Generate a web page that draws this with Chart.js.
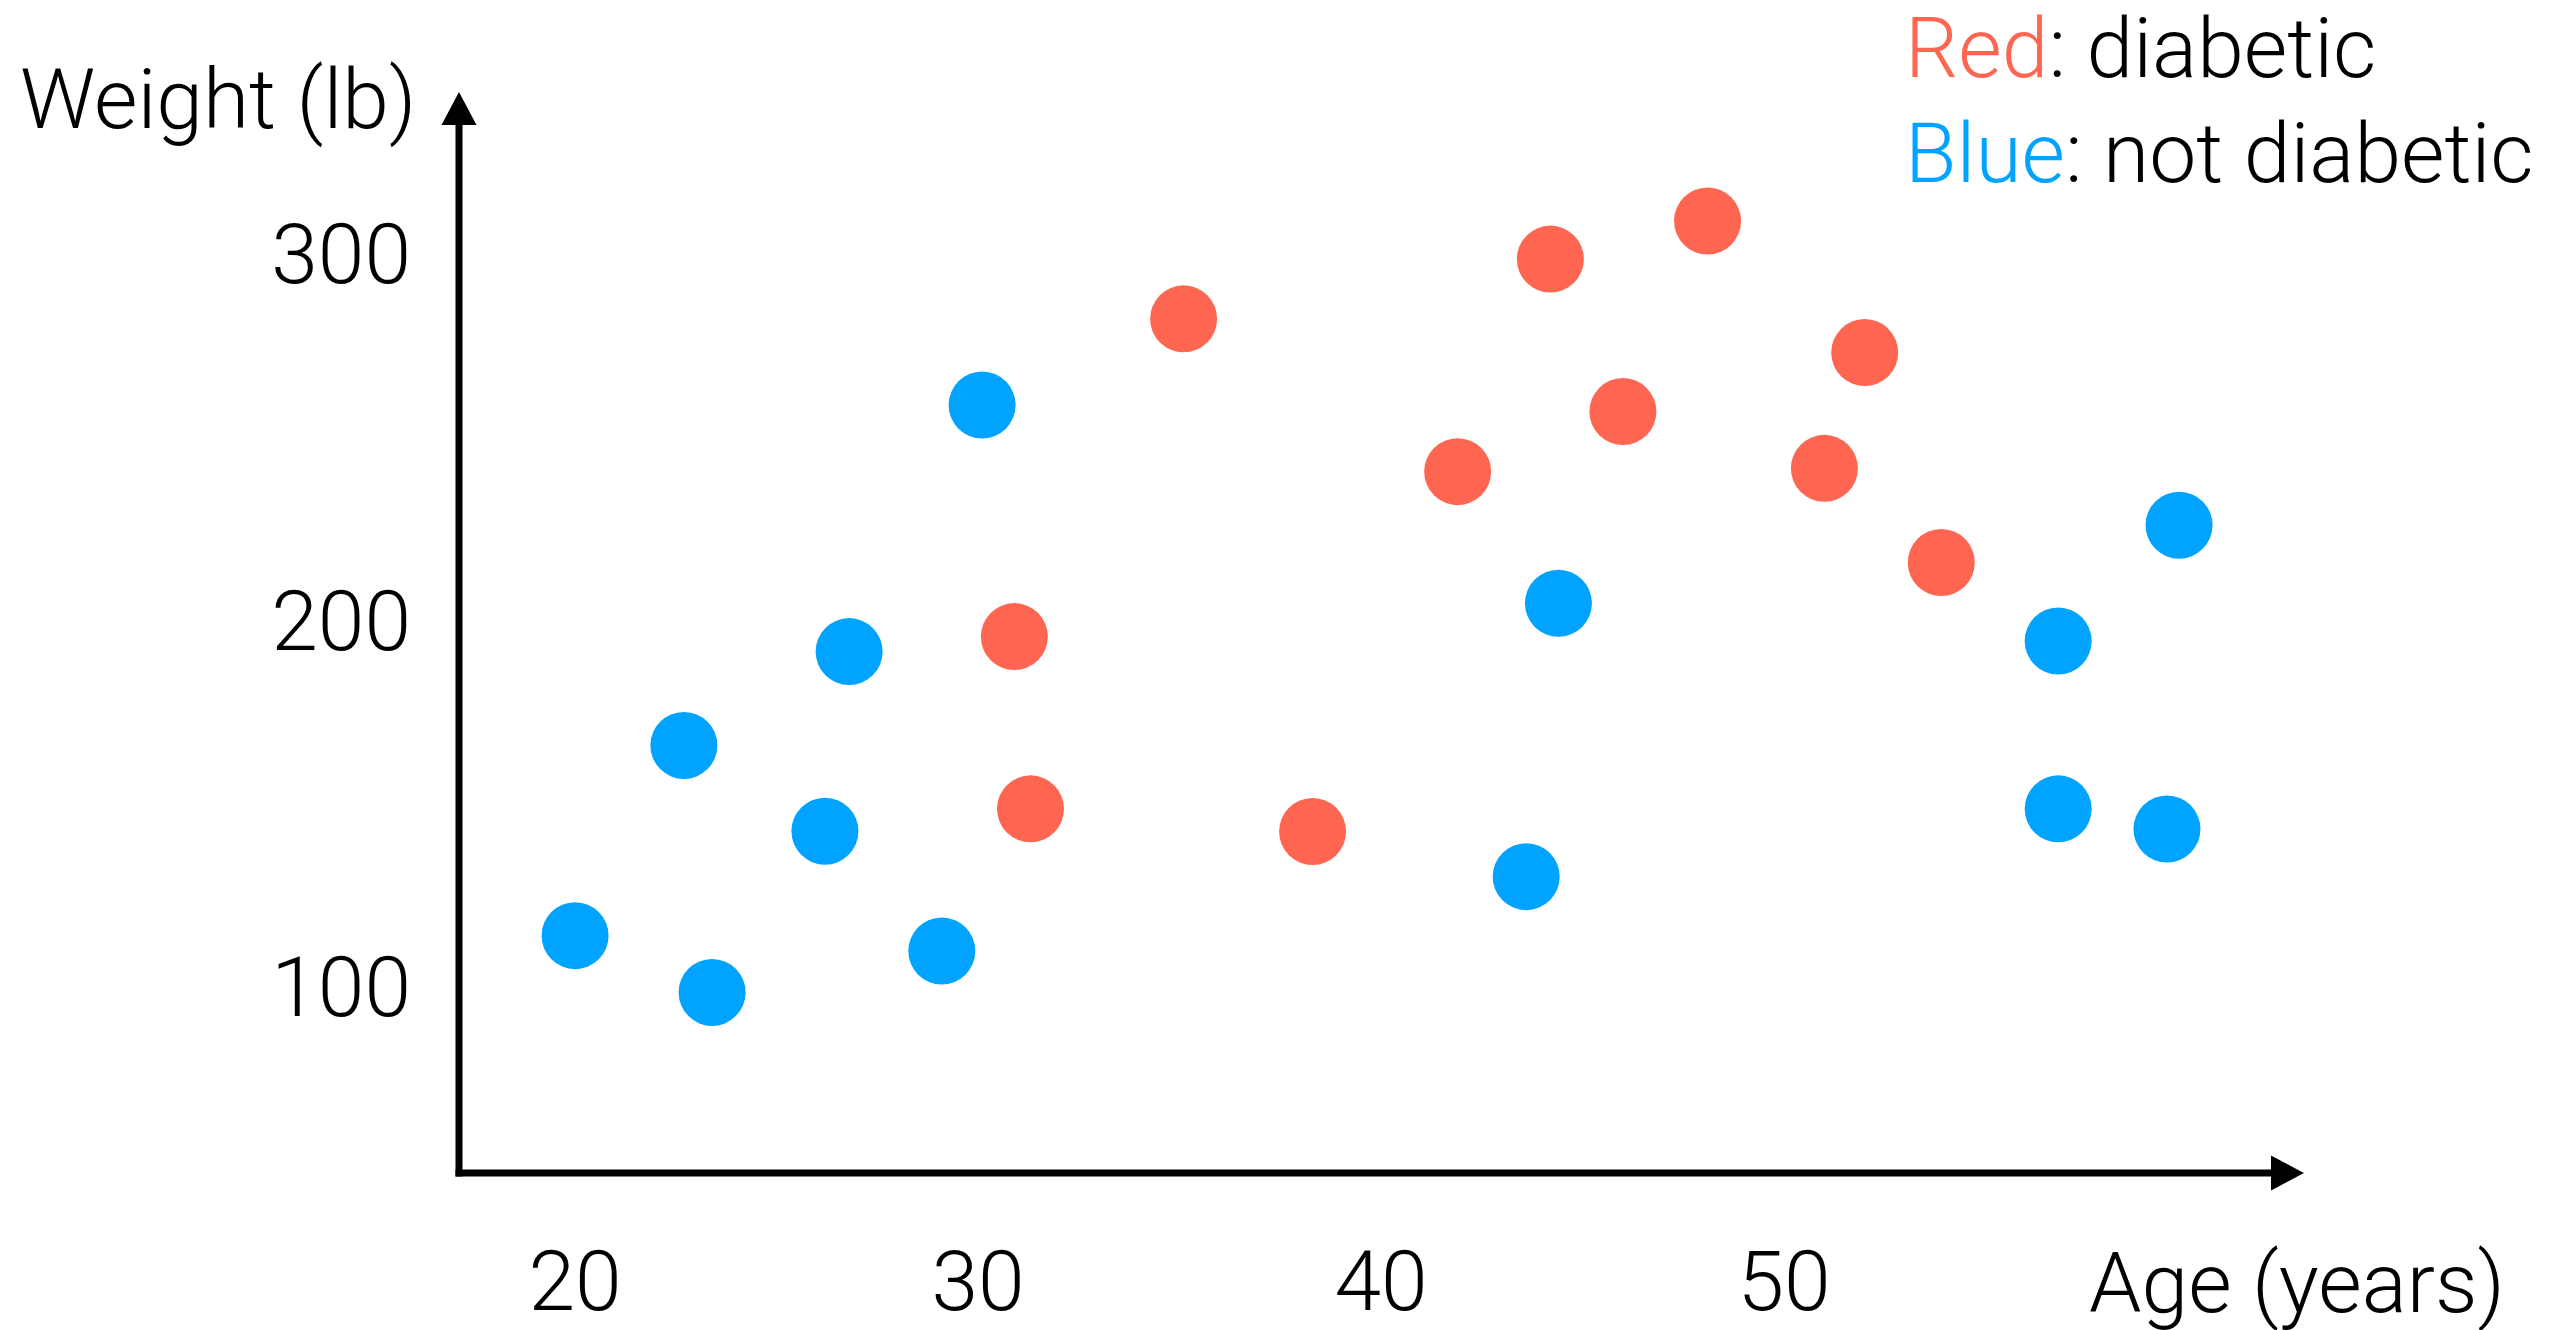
<!DOCTYPE html>
<html>
<head>
<meta charset="utf-8">
<script src="https://cdn.jsdelivr.net/npm/chart.js@4.4.1/dist/chart.umd.min.js"></script>
<style>
  html, body { margin: 0; padding: 0; background: #fff; }
  #wrap { width: 2575px; height: 1330px; position: relative; }
</style>
</head>
<body>
<div id="wrap"><canvas id="chart"></canvas></div>
<script>
const xTicks = [20, 30, 40, 50];
const yTicks = [100, 200, 300];

// red: diabetic
const diabeticAge    = [30.9, 31.3, 35.1, 38.3, 41.9, 44.2, 46.0, 48.1, 51.0, 52.0, 53.9];
const diabeticWeight = [197.8, 150.8, 284.5, 144.6, 242.8, 300.8, 259.2, 311.2, 243.7, 275.3, 218.0];

// blue: not diabetic
const healthyAge    = [20.0, 22.7, 23.4, 26.2, 26.8, 29.1, 30.1, 43.6, 44.4, 56.8, 56.8, 59.5, 59.8];
const healthyWeight = [116.2, 168.1, 100.7, 144.7, 193.7, 112.0, 261.0, 132.3, 206.9, 196.6, 150.8, 145.3, 228.2];

const RED = '#ff6651';
const BLUE = '#00a3ff';
const FAMILY = 'Roboto, "Helvetica Neue", Helvetica, sans-serif';
const FONT_SIZE = 84;

const toPoints = (xs, ys) => xs.map((x, i) => ({ x, y: ys[i] }));

const axesAndText = {
  id: 'axesAndText',
  afterDraw(chart) {
    const { ctx, chartArea: a } = chart;
    const lw = 7;
    ctx.save();
    ctx.fillStyle = '#000';
    ctx.strokeStyle = '#000';
    ctx.lineWidth = lw;
    ctx.lineCap = 'butt';

    // y axis with arrow
    const headLen = 33, headHalf = 17.5;
    ctx.beginPath();
    ctx.moveTo(a.left, a.bottom + lw / 2);
    ctx.lineTo(a.left, a.top + headLen);
    ctx.stroke();
    ctx.beginPath();
    ctx.moveTo(a.left, a.top);
    ctx.lineTo(a.left - headHalf, a.top + headLen);
    ctx.lineTo(a.left + headHalf, a.top + headLen);
    ctx.closePath();
    ctx.fill();

    // x axis with arrow
    ctx.beginPath();
    ctx.moveTo(a.left - lw / 2, a.bottom);
    ctx.lineTo(a.right - headLen, a.bottom);
    ctx.stroke();
    ctx.beginPath();
    ctx.moveTo(a.right, a.bottom);
    ctx.lineTo(a.right - headLen, a.bottom - headHalf);
    ctx.lineTo(a.right - headLen, a.bottom + headHalf);
    ctx.closePath();
    ctx.fill();

    // axis titles
    ctx.font = `300 ${FONT_SIZE}px ${FAMILY}`;
    ctx.textBaseline = 'alphabetic';
    ctx.textAlign = 'left';
    ctx.fillText('Weight (lb)', 20, 128);
    ctx.fillText('Age (years)', 2089, 1312);

    // legend text
    const lx = 1905;
    ctx.fillStyle = RED;
    ctx.fillText('Red', lx, 77);
    let w = ctx.measureText('Red').width;
    ctx.fillStyle = '#000';
    ctx.fillText(': diabetic', lx + w, 77);
    ctx.fillStyle = BLUE;
    ctx.fillText('Blue', lx, 182);
    w = ctx.measureText('Blue').width;
    ctx.fillStyle = '#000';
    ctx.fillText(': not diabetic', lx + w, 182);
    ctx.restore();
  }
};

new Chart(document.getElementById('chart'), {
  type: 'scatter',
  data: {
    datasets: [
      {
        label: 'diabetic',
        data: toPoints(diabeticAge, diabeticWeight),
        backgroundColor: RED,
        borderWidth: 0,
        pointRadius: 33.5,
        pointHoverRadius: 33.5
      },
      {
        label: 'not diabetic',
        data: toPoints(healthyAge, healthyWeight),
        backgroundColor: BLUE,
        borderWidth: 0,
        pointRadius: 33.5,
        pointHoverRadius: 33.5
      }
    ]
  },
  options: {
    responsive: true,
    maintainAspectRatio: false,
    animation: false,
    layout: { padding: { left: 0, top: 92, right: 271, bottom: 0 } },
    plugins: { legend: { display: false }, tooltip: { enabled: false } },
    scales: {
      x: {
        type: 'linear',
        min: 17.12,
        max: 62.9,
        grid: { display: false, drawTicks: false },
        border: { display: false },
        afterFit(scale) {
          scale.height = 157;
          scale.paddingLeft = 0;
          scale.paddingRight = 0;
        },
        afterBuildTicks(scale) { scale.ticks = xTicks.map(v => ({ value: v })); },
        ticks: {
          color: '#000',
          padding: 66,
          font: { family: FAMILY, size: FONT_SIZE, weight: '300' }
        }
      },
      y: {
        type: 'linear',
        min: 51.43,
        max: 346.4,
        grid: { display: false, drawTicks: false },
        border: { display: false },
        afterFit(scale) {
          scale.width = 459;
          scale.paddingTop = 0;
          scale.paddingBottom = 0;
        },
        afterBuildTicks(scale) { scale.ticks = yTicks.map(v => ({ value: v })); },
        ticks: {
          color: '#000',
          padding: 48,
          font: { family: FAMILY, size: FONT_SIZE, weight: '300' }
        }
      }
    }
  },
  plugins: [axesAndText]
});
</script>
</body>
</html>
